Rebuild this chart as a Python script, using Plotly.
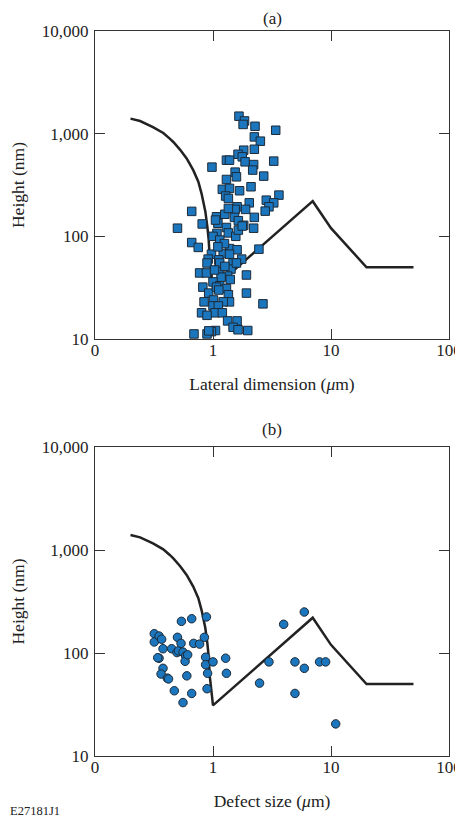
import plotly.graph_objects as go

# threshold curve (same in both panels)
curve_x = [0.2, 0.241, 0.31, 0.379, 0.43, 0.461, 0.525, 0.56, 0.598, 0.68, 0.751, 0.8,
           0.861, 0.895, 0.919, 0.94, 1.0, 7, 10, 20, 50]
curve_y = [1400, 1327, 1160, 1015, 895, 830, 700, 640, 573, 441, 340, 261,
           175, 125, 93, 59, 31, 220, 120, 50, 50]

# (a) lateral dimension (um) vs height (nm)
a_x = [1.66, 1.85, 1.80, 2.27, 3.40, 2.24, 2.52, 2.24, 1.82, 1.63, 1.77, 1.30, 1.38, 1.87,
       3.27, 2.21, 2.17, 0.98, 1.54, 2.69, 1.30, 1.58, 2.10, 1.20, 1.38, 1.68, 1.28, 1.35,
       3.62, 2.83, 2.03, 3.27, 2.98, 1.60, 1.54, 1.89, 2.77, 0.66, 1.07, 1.26, 1.52, 2.24,
       1.10, 0.81, 0.50, 1.64, 1.82, 2.21, 1.30, 1.08, 1.00, 1.35, 1.56, 0.66, 0.75, 2.45,
       1.38, 1.60, 1.22, 0.97, 1.38, 1.75, 0.91, 1.12, 1.48, 0.89, 1.42, 1.12, 1.92, 0.77,
       0.88, 1.33, 1.17, 1.00, 0.82, 1.14, 1.30, 0.92, 1.92, 1.35, 1.01, 0.84, 1.38, 1.22,
       2.65, 1.00, 1.11, 0.80, 1.04, 1.20, 0.89, 1.33, 1.60, 1.48, 1.63, 1.97, 1.05, 0.97,
       0.69, 0.89, 0.92, 1.14, 1.25, 1.10, 1.58, 1.14, 1.40, 1.07, 1.12, 1.26, 1.03, 1.64,
       1.77, 1.35, 1.05]
a_y = [1480, 1330, 1230, 1180, 1080, 930, 845, 705, 690, 630, 595, 552, 552, 532,
       540, 500, 442, 472, 422, 386, 358, 380, 304, 287, 293, 278, 247, 234,
       252, 225, 212, 212, 194, 194, 183, 183, 176, 175, 155, 164, 153, 153,
       134, 132, 120, 142, 128, 120, 122, 107, 100, 108, 100, 87, 78, 75,
       76, 74, 68, 67, 67, 60, 60, 59, 55, 55, 48, 48, 42, 44,
       44, 41, 40, 36, 32, 33, 31, 28, 28, 27, 24, 23, 23, 23,
       22, 21, 21, 18, 18, 18, 17, 15, 15, 13, 12.3, 12.1, 12.1, 11.8,
       11.2, 11.2, 12, 92, 85, 79, 55, 55, 38, 32, 30, 51, 47, 115,
       126, 187, 144]

# (b) defect size (um) vs height (nm)
b_x = [0.318, 0.318, 0.349, 0.367, 0.349, 0.34, 0.377, 0.377, 0.363, 0.41, 0.42, 0.446,
       0.47, 0.50, 0.495, 0.51, 0.536, 0.54, 0.557, 0.557, 0.586, 0.58, 0.61, 0.60,
       0.66, 0.66, 0.686, 0.77, 0.845, 0.88, 0.866, 0.866, 0.90, 0.89, 1.0, 1.28,
       1.30, 2.48, 2.98, 3.97, 4.95, 4.95, 5.94, 5.94, 8.0, 9.0, 10.96]
b_y = [154, 128, 146, 136, 89, 90, 110, 71, 62.5, 57, 56, 110,
       43, 142, 101, 105, 124, 203, 33, 102, 93.5, 83, 96, 60,
       215, 40.5, 124, 122, 142, 224, 91, 77, 63.5, 45, 82, 89,
       63.5, 51, 82, 190, 82, 40.5, 250, 71, 82, 82, 20.5]

FONT = "Liberation Serif, Times New Roman, serif"
BLUE = "#1b76bd"
EDGE = "#1d2a38"

# the page body has an 8 px margin, so the figure is sized/offset to compensate
OFF = 8
W, H = 463 - OFF, 818 - OFF
ML, MR, MT, MB = 95 - OFF, 14, 31 - OFF, 818 - 756

fig = go.Figure()
for ax, mx, my, sym in [("", a_x, a_y, "square"), ("2", b_x, b_y, "circle")]:
    fig.add_trace(go.Scatter(x=curve_x, y=curve_y, mode="lines", xaxis="x" + ax, yaxis="y" + ax,
                             line=dict(color="#222222", width=2.5), showlegend=False))
    fig.add_trace(go.Scatter(x=mx, y=my, mode="markers", xaxis="x" + ax, yaxis="y" + ax,
                             marker=dict(symbol=sym, size=8.5, color=BLUE,
                                         line=dict(color=EDGE, width=1)),
                             showlegend=False))

xcommon = dict(type="log", range=[-1, 2], tickvals=[0.1, 1, 10, 100],
               ticktext=["0", "1", "10", "100"], ticks="inside", ticklen=10,
               tickcolor="#333", showline=True, linecolor="#333", linewidth=1.2,
               mirror="ticks", showgrid=False, zeroline=False, automargin=False,
               tickfont=dict(family=FONT, size=17, color="#222"),
               ticklabelstandoff=-5)
ycommon = dict(type="log", range=[1, 4], tickvals=[10, 100, 1000, 10000],
               ticktext=["10", "100", "1,000", "10,000"], ticks="inside", ticklen=10,
               tickcolor="#333", showline=True, linecolor="#333", linewidth=1.2,
               mirror="ticks", showgrid=False, zeroline=False, automargin=False,
               tickfont=dict(family=FONT, size=17, color="#222"),
               ticklabelstandoff=2)

plot_h = H - MT - MB
plot_w = W - ML - MR
split = (756 - 339) / plot_h
split2 = (756 - 447) / plot_h

fig.update_layout(
    width=W, height=H,
    margin=dict(l=ML, r=MR, t=MT, b=MB),
    paper_bgcolor="white", plot_bgcolor="white",
    font=dict(family=FONT, size=17, color="#222"),
    xaxis=dict(xcommon, anchor="y",
               title=dict(text="Lateral dimension (<i>μ</i>m)", standoff=19,
                          font=dict(family=FONT, size=17.5))),
    yaxis=dict(ycommon, anchor="x", domain=[split, 1],
               title=dict(text="Height (nm)", standoff=14,
                          font=dict(family=FONT, size=17.5))),
    xaxis2=dict(xcommon, anchor="y2",
                title=dict(text="Defect size (<i>μ</i>m)", standoff=19,
                           font=dict(family=FONT, size=17.5))),
    yaxis2=dict(ycommon, anchor="x2", domain=[0, split2],
                title=dict(text="Height (nm)", standoff=14,
                           font=dict(family=FONT, size=17.5))),
)

# panel labels and figure code, placed in pixel terms via paper coords
fig.add_annotation(text="(a)", x=0.5, y=1 + MT / plot_h, xref="paper", yref="paper",
                   yanchor="top", showarrow=False, font=dict(family=FONT, size=17),
                   borderpad=0)
fig.add_annotation(text="(b)", x=0.5, y=(756 - 429) / plot_h, xref="paper", yref="paper",
                   yanchor="middle", showarrow=False, font=dict(family=FONT, size=17))
fig.add_annotation(text="E27181J1", x=-(95 - 8) / plot_w, y=(756 - 811) / plot_h,
                   xref="paper", yref="paper", xanchor="left", yanchor="middle",
                   showarrow=False, font=dict(family=FONT, size=12.5))

fig.write_html("out.html")
